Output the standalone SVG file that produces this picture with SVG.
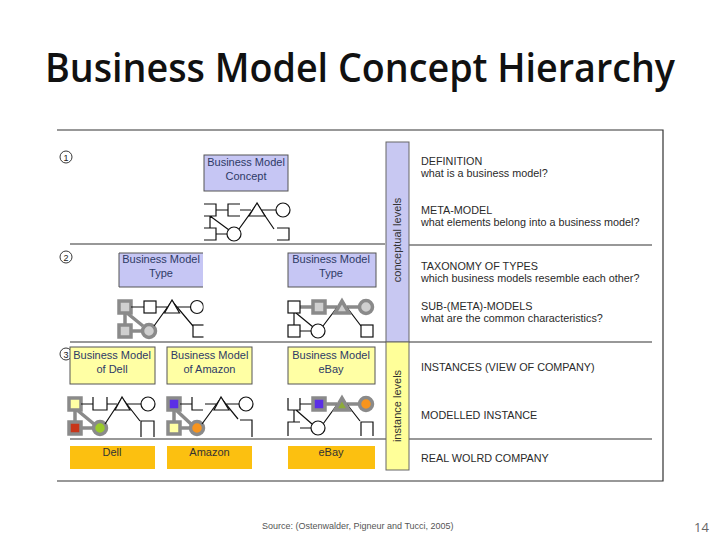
<svg xmlns="http://www.w3.org/2000/svg" width="720" height="540" viewBox="0 0 720 540">
<style>
.ttl{font-family:"Open Sans","Liberation Sans",Arial,sans-serif;font-size:40px;font-weight:600;fill:#111}
.bx{font-family:"Liberation Sans",Arial,sans-serif;font-size:11px;fill:#2e3a66;text-anchor:middle}
.rt{font-family:"Liberation Sans",Arial,sans-serif;font-size:10.8px;fill:#2a2a2a}
.vt{font-family:"Liberation Sans",Arial,sans-serif;font-size:11px;fill:#333;text-anchor:middle}
.num{font-family:"Liberation Sans",Arial,sans-serif;font-size:9px;fill:#222;text-anchor:middle}
.foot{font-family:"Liberation Sans",Arial,sans-serif;font-size:9px;fill:#555}
.pg{font-family:"Open Sans","Liberation Sans",Arial,sans-serif;font-size:13px;fill:#666}
.lav{fill:#c6c6f4;stroke:#555;stroke-width:1}
.yel{fill:#ffffa4;stroke:#555;stroke-width:1}
.org{fill:#fcc010;stroke:none}
.sep{stroke:#333;stroke-width:1.2;fill:none}
.k{stroke:#111;stroke-width:1.2;fill:none}
.kw{stroke:#111;stroke-width:1.2;fill:#fff}
.gl{stroke:#8a8a8a;stroke-width:3.5;fill:none}
.gs{stroke:#8a8a8a;stroke-width:3.5}
</style>
<defs>
<clipPath id="cut1"><rect x="100" y="290" width="103.5" height="55"/></clipPath>
</defs>
<rect width="720" height="540" fill="#fff"/>
<text class="ttl" x="360" y="82" text-anchor="middle" textLength="630" lengthAdjust="spacingAndGlyphs">Business Model Concept Hierarchy</text>

<g id="frame">
<path class="sep" d="M57,130 H663 V481 H57"/>
<path class="sep" d="M70,244 H385 M409,245 H652 M70,342 H652 M70,439 H652" stroke="#444" stroke-width="1"/>
</g>

<g id="bands">
<rect x="386" y="142" width="23" height="200" fill="#c8c8f2" stroke="#666" stroke-width="1"/>
<rect x="386" y="342" width="23" height="128" fill="#ffff99" stroke="#666" stroke-width="1"/>
<text class="vt" transform="translate(401,240) rotate(-90)">conceptual levels</text>
<text class="vt" transform="translate(401,406) rotate(-90)">instance levels</text>
</g>

<g id="level-numbers">
<circle cx="66" cy="157" r="6" fill="#fff" stroke="#222" stroke-width="0.9"/><text class="num" x="66" y="160.5">1</text>
<circle cx="66" cy="257" r="6" fill="#fff" stroke="#222" stroke-width="0.9"/><text class="num" x="66" y="260.5">2</text>
<circle cx="66" cy="354" r="6" fill="#fff" stroke="#222" stroke-width="0.9"/><text class="num" x="66" y="357.5">3</text>
</g>

<g id="node-concept">
<rect class="lav" x="204" y="155" width="84" height="36"/>
<text class="bx" x="246" y="166">Business Model</text>
<text class="bx" x="246" y="180">Concept</text>
</g>
<g id="node-type1">
<rect x="119" y="253" width="84" height="34" fill="#c6c6f4"/>
<path d="M203,253 H119 V287 H203" fill="none" stroke="#555"/>
<text class="bx" x="161" y="263">Business Model</text>
<text class="bx" x="161" y="277">Type</text>
</g>
<g id="node-type2">
<rect class="lav" x="288" y="253" width="88" height="34"/>
<text class="bx" x="331" y="263">Business Model</text>
<text class="bx" x="331" y="277">Type</text>
</g>
<g id="node-bm-dell">
<rect class="yel" x="70" y="347" width="85" height="37"/>
<text class="bx" x="112" y="359">Business Model</text>
<text class="bx" x="112" y="373">of Dell</text>
</g>
<g id="node-bm-amazon">
<rect class="yel" x="167" y="347" width="85" height="37"/>
<text class="bx" x="209.5" y="359">Business Model</text>
<text class="bx" x="209.5" y="373">of Amazon</text>
</g>
<g id="node-bm-ebay">
<rect class="yel" x="288" y="347" width="87" height="37"/>
<text class="bx" x="331" y="359">Business Model</text>
<text class="bx" x="331" y="373">eBay</text>
</g>
<g id="node-dell">
<rect class="org" x="70" y="446" width="85" height="23"/>
<text class="bx" x="112" y="456" style="fill:#333">Dell</text>
</g>
<g id="node-amazon">
<rect class="org" x="167" y="446" width="85" height="23"/>
<text class="bx" x="209.5" y="456" style="fill:#333">Amazon</text>
</g>
<g id="node-ebay">
<rect class="org" x="288" y="446" width="87" height="23"/>
<text class="bx" x="331" y="456" style="fill:#333">eBay</text>
</g>

<g id="connectors">
<g id="glyph-concept">
<path class="k" d="M204,204 H216 V216 H204 M216,210 H228 M240,204 H228 V216 H240 M240,210 H251 M262,210 H276 M204,228 H216 V240 H204 M210,216 V228 M210,216 L229,230 M216,234 H227 M239,229 L257,204 L274,229 M277,228 H289 V240 H277"/>
<path class="kw" d="M257,203 L249,216 H265 Z"/>
<circle class="kw" cx="283" cy="210" r="7"/>
<circle class="kw" cx="234" cy="234" r="7"/>
</g>
<g id="glyph-type1" clip-path="url(#cut1)">
<path class="gl" d="M125,313 V325 M127,313 L143,326 M131,331 H142"/>
<rect class="gs" x="119" y="301" width="12" height="12" fill="#cfcfcf"/>
<rect class="gs" x="119" y="325" width="12" height="12" fill="#cfcfcf"/>
<circle class="gs" cx="149" cy="331" r="6.5" fill="#cfcfcf"/>
<path class="k" d="M131,307 H144 M156,307 H167 M177,307 H191 M154,326 L172,301 L193,326"/>
<rect class="kw" x="144" y="301" width="12" height="12"/>
<path class="kw" d="M172,300 L164.5,313 H179.5 Z"/>
<circle class="kw" cx="197" cy="307" r="6.5"/>
<rect class="kw" x="193" y="325" width="12" height="12"/>
</g>
<g id="glyph-type2">
<path class="gl" d="M300,307 H313 M325,307 H337 M347,307 H360"/>
<path class="k" d="M294,313 V325 M296,313 L313,327 M300,331 H311 M323,326 L342,301 L361,326"/>
<rect class="kw" x="288" y="301" width="12" height="12"/>
<rect class="gs" x="313" y="301" width="12" height="12" fill="#cfcfcf"/>
<path class="gs" d="M342,301 L335,313 H349 Z" fill="#cfcfcf"/>
<circle class="gs" cx="366" cy="307" r="6.5" fill="#cfcfcf"/>
<rect class="kw" x="288" y="325" width="12" height="12"/>
<circle class="kw" cx="318" cy="331" r="7"/>
<rect class="kw" x="361" y="325" width="12" height="12"/>
</g>
<g id="glyph-dell">
<path class="gl" d="M75,410 V422 M77,410 L94,424 M81,428 H93"/>
<rect class="gs" x="69" y="398" width="12" height="12" fill="#ffffa4"/>
<rect class="gs" x="69" y="422" width="12" height="12" fill="#c8361a"/>
<circle class="gs" cx="100" cy="428" r="6.5" fill="#9acb2a"/>
<path class="k" d="M81,404 H93 M93,397 V410 H107 V397 M107,404 H117 M127,404 H141 M105,424 L122,398 L140,421 M141,437 V421 H154 V437"/>
<path class="kw" d="M122,397 L115,410 H130 Z"/>
<circle class="kw" cx="148" cy="404" r="7"/>
</g>
<g id="glyph-amazon">
<path class="gl" d="M174,410 V422 M176,410 L191,424 M180,428 H190"/>
<rect class="gs" x="168" y="398" width="12" height="12" fill="#5b2ee6"/>
<rect class="gs" x="168" y="422" width="12" height="12" fill="#ffffa4"/>
<circle class="gs" cx="197" cy="428" r="6.5" fill="#f7941d"/>
<path class="k" d="M180,404 H192 M192,397 V410 H203 M205,404 H216 M226,404 H239 M202,424 L221,398 L238,419 M240,420 H252 V437"/>
<path class="kw" d="M221,397 L214,410 H229 Z"/>
<circle class="kw" cx="246" cy="404" r="7"/>
</g>
<g id="glyph-ebay">
<path class="gl" d="M325,404 H337 M347,404 H360"/>
<path class="k" d="M288,398 V410 H300 V398 M300,404 H313 M294,410 V422 M296,410 L312,424 M288,436 V422 H300 M300,428 H311 M323,424 L342,398 L360,421 M361,436 V422 H373 V436"/>
<rect class="gs" x="313" y="398" width="12" height="12" fill="#5b2ee6"/>
<path class="gs" d="M342,398 L335,410 H349 Z" fill="#8cab3a"/>
<circle class="gs" cx="366" cy="404" r="6.5" fill="#f7941d"/>
<circle class="kw" cx="318" cy="428" r="7"/>
</g>
</g>

<g id="right-labels">
<text class="rt" x="421" y="165">DEFINITION</text>
<text class="rt" x="421" y="177">what is a business model?</text>
<text class="rt" x="421" y="214">META-MODEL</text>
<text class="rt" x="421" y="226">what elements belong into a business model?</text>
<text class="rt" x="421" y="270">TAXONOMY OF TYPES</text>
<text class="rt" x="421" y="282">which business models resemble each other?</text>
<text class="rt" x="421" y="310">SUB-(META)-MODELS</text>
<text class="rt" x="421" y="322">what are the common characteristics?</text>
<text class="rt" x="421" y="371">INSTANCES (VIEW OF COMPANY)</text>
<text class="rt" x="421" y="419">MODELLED INSTANCE</text>
<text class="rt" x="421" y="462">REAL WOLRD COMPANY</text>
</g>

<text class="foot" x="262" y="529">Source: (Ostenwalder, Pigneur and  Tucci, 2005)</text>
<text class="pg" x="694" y="532">14</text>
</svg>
